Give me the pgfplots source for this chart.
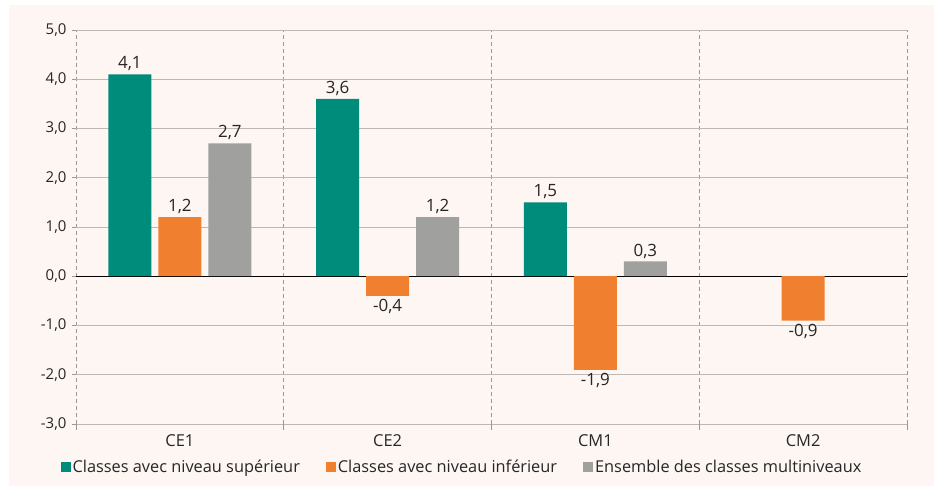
\documentclass[border=0pt]{standalone}
\usepackage{pgfplots}
\pgfplotsset{compat=1.18}
\usepackage{fontspec}
\setmainfont{Open Sans}
\definecolor{cteal}{HTML}{008C7A}
\definecolor{corange}{HTML}{F08030}
\definecolor{cgray}{HTML}{A0A09E}
\definecolor{cbg}{HTML}{FDF6F3}
\definecolor{cgrid}{HTML}{BDB8B5}
\definecolor{cdash}{HTML}{9A9794}
\definecolor{ctext}{HTML}{262626}
\begin{document}
\begin{tikzpicture}[x=1bp,y=1bp]
\fill[white] (0,0) rectangle (938,486);
\fill[cbg] (9,0) rectangle (934,481);
\begin{axis}[
  at={(76bp,62bp)}, anchor=south west,
  scale only axis, width=831bp, height=394bp,
  ymin=-3, ymax=5, ytick={-3,-2,...,5},
  xmin=-0.5, xmax=3.5, xtick={0,1,2,3}, xticklabels={CE1,CE2,CM1,CM2},
  minor xtick={-0.5,0.5,1.5,2.5,3.5},
  xminorgrids, ymajorgrids,
  minor x grid style={cdash, dash pattern=on 4bp off 3bp, line width=0.6bp},
  major y grid style={cgrid, line width=0.9bp},
  axis line style={draw=none},
  tick pos=left, tick align=outside,
  major tick length=4bp, minor tick length=6bp,
  major x tick style={draw=none},
  every tick/.style={cdash, line width=0.6bp},
  minor x tick style={cdash, line width=0.6bp},
  /pgf/number format/.cd, fixed, fixed zerofill, precision=1, use comma, assume math mode=true,
  /pgfplots/.cd,
  yticklabel style={font=\fontsize{15}{18}\selectfont, text=ctext, xshift=-2bp},
  xticklabel style={font=\fontsize{16.5}{19}\selectfont, text=ctext, yshift=-3bp},
  extra y ticks={0}, extra y tick labels={},
  extra y tick style={major y grid style={black, line width=1bp}},
  ybar=7bp, bar width=43bp,
  nodes near coords,
  every node near coord/.append style={font=\fontsize{17}{20}\selectfont, text=ctext, inner sep=3bp},
  legend columns=3,
  legend style={at={(0.4645,-0.109)}, anchor=center, draw=none, fill=none,
    font=\fontsize{16.4}{19}\selectfont, text=ctext,
    /tikz/every even column/.append style={column sep=24bp},
    nodes={inner sep=2bp}},
  legend image code/.code={\fill[#1] (0bp,-5bp) rectangle (10bp,5bp);},
]
\addplot[fill=cteal, draw=none] coordinates {(0,4.1) (1,3.6) (2,1.5)};
\addplot[fill=corange, draw=none] coordinates {(0,1.2) (1,-0.4) (2,-1.9) (3,-0.9)};
\addplot[fill=cgray, draw=none] coordinates {(0,2.7) (1,1.2) (2,0.3)};
\legend{Classes avec niveau supérieur, Classes avec niveau inférieur, Ensemble des classes multiniveaux}
\end{axis}
\end{tikzpicture}
\end{document}
